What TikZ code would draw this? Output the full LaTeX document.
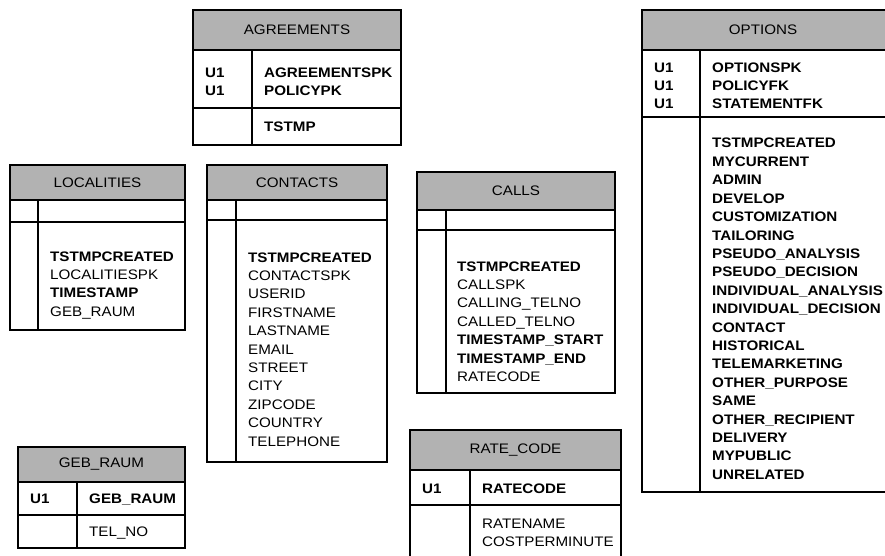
\documentclass[tikz,border=0pt]{standalone}
\usepackage{fontspec}
\setmainfont[FakeStretch=1.1]{Liberation Sans}
\colorlet{linecol}{black}
\colorlet{headcol}{black!30!white}
\colorlet{textcol}{black}
\tikzset{
  every node/.style={font=\fontsize{13.8}{16}\selectfont, inner sep=0pt, text=textcol},
  tablebox/.style={draw=linecol, line width=1.1pt},
  headfill/.style={fill=headcol, draw=linecol, line width=1.1pt},
  fieldtext/.style={anchor=base west},
}

\begin{document}
\begin{tikzpicture}[x=1pt, y=-1pt]

  % Canvas.
  \useasboundingbox (0,0) rectangle (885,556);

  % AGREEMENTS table.
  \draw[headfill] (193,10) rectangle (401,50);
  \node (agrhead) at (297,30) {AGREEMENTS};
  \draw[tablebox] (193,10) rectangle (401,145);
  \draw[tablebox] (193,108) -- (401,108);
  \draw[tablebox] (252,50) -- (252,145);
  \foreach \f [count=\i] in {AGREEMENTSPK, POLICYPK} {
    \node[fieldtext] (agrkey\i) at (205, {78+17.5*(\i-1)}) {\textbf{U1}};
    \node[fieldtext] (agrpk\i) at (264, {78+17.5*(\i-1)}) {\textbf{\f}};
  }
  \node[fieldtext] (agr1) at (264,132) {\textbf{TSTMP}};

  % LOCALITIES table.
  \draw[headfill] (10,165) rectangle (185,200);
  \node (lochead) at (97.5,182.5) {LOCALITIES};
  \draw[tablebox] (10,165) rectangle (185,330);
  \draw[tablebox] (10,222) -- (185,222);
  \draw[tablebox] (38,200) -- (38,330);
  \foreach \f [count=\i] in {\textbf{TSTMPCREATED}, LOCALITIESPK,
      \textbf{TIMESTAMP}, GEB\_RAUM} {
    \node[fieldtext] (loc\i) at (50, {261+18.4*(\i-1)}) {\f};
  }

  % CONTACTS table.
  \draw[headfill] (207,165) rectangle (387,200);
  \node (conhead) at (297,182.5) {CONTACTS};
  \draw[tablebox] (207,165) rectangle (387,462);
  \draw[tablebox] (207,220) -- (387,220);
  \draw[tablebox] (236,200) -- (236,462);
  \foreach \f [count=\i] in {\textbf{TSTMPCREATED}, CONTACTSPK, USERID,
      FIRSTNAME, LASTNAME, EMAIL, STREET, CITY, ZIPCODE, COUNTRY, TELEPHONE} {
    \node[fieldtext] (con\i) at (248, {262+18.4*(\i-1)}) {\f};
  }

  % CALLS table.
  \draw[headfill] (417,172) rectangle (615,210);
  \node (calhead) at (516,191) {CALLS};
  \draw[tablebox] (417,172) rectangle (615,393);
  \draw[tablebox] (417,230) -- (615,230);
  \draw[tablebox] (446,210) -- (446,393);
  \foreach \f [count=\i] in {\textbf{TSTMPCREATED}, CALLSPK, CALLING\_TELNO,
      CALLED\_TELNO, \textbf{TIMESTAMP\_START}, \textbf{TIMESTAMP\_END}, RATECODE} {
    \node[fieldtext] (cal\i) at (457, {271+18.4*(\i-1)}) {\f};
  }

  % OPTIONS table (runs past the right edge).
  \draw[headfill] (642,10) rectangle (892,50);
  \node (opthead) at (763,30) {OPTIONS};
  \draw[tablebox] (642,10) rectangle (892,492);
  \draw[tablebox] (642,117) -- (892,117);
  \draw[tablebox] (700,50) -- (700,492);
  \foreach \f [count=\i] in {OPTIONSPK, POLICYFK, STATEMENTFK} {
    \node[fieldtext] (optkey\i) at (654, {73+18*(\i-1)}) {\textbf{U1}};
    \node[fieldtext] (optpk\i) at (712, {73+18*(\i-1)}) {\textbf{\f}};
  }
  \foreach \f [count=\i] in {TSTMPCREATED, MYCURRENT, ADMIN, DEVELOP,
      CUSTOMIZATION, TAILORING, PSEUDO\_ANALYSIS, PSEUDO\_DECISION,
      INDIVIDUAL\_ANALYSIS, INDIVIDUAL\_DECISION, CONTACT, HISTORICAL,
      TELEMARKETING, OTHER\_PURPOSE, SAME, OTHER\_RECIPIENT, DELIVERY,
      MYPUBLIC, UNRELATED} {
    \node[fieldtext] (opt\i) at (712, {148+18.4*(\i-1)}) {\textbf{\f}};
  }

  % GEB_RAUM table.
  \draw[headfill] (18,447) rectangle (185,482);
  \node (gebhead) at (101.5,464.5) {GEB\_RAUM};
  \draw[tablebox] (18,447) rectangle (185,548);
  \draw[tablebox] (18,515) -- (185,515);
  \draw[tablebox] (77,482) -- (77,548);
  \node[fieldtext] (gebkey1) at (30,503) {\textbf{U1}};
  \node[fieldtext] (gebpk1) at (89,503) {\textbf{GEB\_RAUM}};
  \node[fieldtext] (geb1) at (89,536) {TEL\_NO};

  % RATE_CODE table (cut by the bottom edge).
  \draw[headfill] (410,430) rectangle (621,470);
  \node (ratehead) at (515.5,450) {RATE\_CODE};
  \draw[tablebox] (410,430) rectangle (621,562);
  \draw[tablebox] (410,505) -- (621,505);
  \draw[tablebox] (470,470) -- (470,562);
  \node[fieldtext] (ratekey1) at (422,493) {\textbf{U1}};
  \node[fieldtext] (ratepk1) at (482,493) {\textbf{RATECODE}};
  \foreach \f [count=\i] in {RATENAME, COSTPERMINUTE} {
    \node[fieldtext] (rate\i) at (482, {528+18*(\i-1)}) {\f};
  }

\end{tikzpicture}
\end{document}
